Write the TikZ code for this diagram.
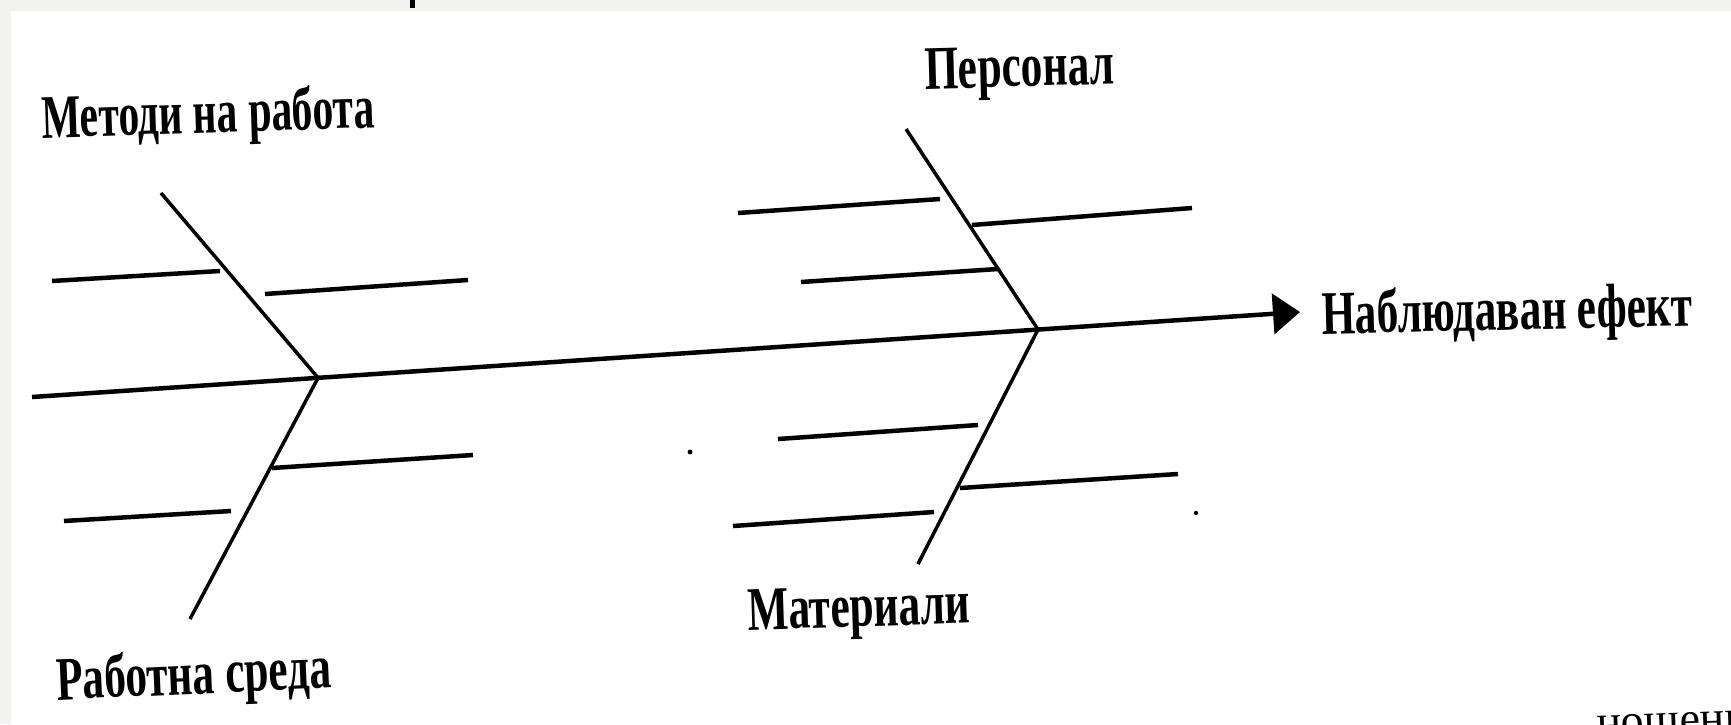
\documentclass[tikz,border=0pt]{standalone}
\usepackage{fontspec}
\setmainfont{Liberation Serif}
\newfontfamily\labfont[FakeStretch=0.70]{Liberation Serif Bold}
\newfontfamily\labfontn[FakeStretch=0.67]{Liberation Serif Bold}
\usetikzlibrary{arrows.meta,calc}
\definecolor{bggrey}{HTML}{F2F2F0}
\tikzset{
  lab/.style={inner sep=0pt, anchor=base west, font=\labfont\fontsize{62}{66}\selectfont},
  labn/.style={lab, font=\labfontn\fontsize{62}{66}\selectfont},
  spine/.style={line width=4.5pt, -{Triangle[length=27pt,width=40pt]}},
  bone/.style={line width=3.5pt},
  sub/.style={line width=4.5pt},
  speck/.style={fill=black}
}
\begin{document}
\begin{tikzpicture}[x=1pt,y=-1pt]
\fill[bggrey] (0,0) rectangle (1731,724);
\fill[white] (11,11) rectangle (1731,724);
\useasboundingbox (0,0) rectangle (1731,724);

% spine
\coordinate (s0) at (32,397);
\coordinate (s1) at (1300,312);
\coordinate (j1) at ($(s0)!0.2256!(s1)$);
\coordinate (j2) at ($(s0)!0.7934!(s1)$);
\draw[spine] (s0) -- (s1);

% main bones
\coordinate (b1) at (161,193);
\coordinate (b2) at (190,619);
\coordinate (b3) at (906,129);
\coordinate (b4) at (918,564);
\draw[bone] (b1) -- (j1);
\draw[bone] (j1) -- (b2);
\draw[bone] (b3) -- (j2);
\draw[bone] (j2) -- (b4);

% sub-bones
\coordinate (a1) at (52,281);  \coordinate (a2) at (220,271);
\coordinate (a3) at (265,294); \coordinate (a4) at (468,280);
\coordinate (a5) at (272,468); \coordinate (a6) at (473,455);
\coordinate (a7) at (64,521);  \coordinate (a8) at (231,511);
\coordinate (c1) at (738,213); \coordinate (c2) at (940,199);
\coordinate (c3) at (972,225); \coordinate (c4) at (1192,208);
\coordinate (c5) at (801,282); \coordinate (c6) at (998,269);
\coordinate (c7) at (778,439); \coordinate (c8) at (978,425);
\coordinate (c9) at (960,488); \coordinate (c10) at (1178,474);
\coordinate (c11) at (733,526); \coordinate (c12) at (934,512);
\draw[sub] (a1) -- (a2);
\draw[sub] (a3) -- (a4);
\draw[sub] (a5) -- (a6);
\draw[sub] (a7) -- (a8);
\draw[sub] (c1) -- (c2);
\draw[sub] (c3) -- (c4);
\draw[sub] (c5) -- (c6);
\draw[sub] (c7) -- (c8);
\draw[sub] (c9) -- (c10);
\draw[sub] (c11) -- (c12);

% specks
\fill[speck] (690,452) circle (2.4pt);
\fill[speck] (1196,513) circle (2.2pt);
\fill[speck] (410,0) rectangle (415,8);

% labels
\node[labn, rotate=1.8] (methods) at (42,138) {Методи на работа};
\node[lab, rotate=1.5] (staff) at (925,89) {Персонал};
\node[lab, rotate=1.3] (effect) at (1322,334) {Наблюдаван ефект};
\node[lab, rotate=1.8] (materials) at (748,630) {Материали};
\node[lab, rotate=2.5] (env) at (57,700) {Работна среда};
\node[inner sep=0pt, anchor=base west, rotate=2, font=\fontsize{46}{50}\selectfont] (cut) at (1597,737) {ношения};
\end{tikzpicture}
\end{document}
